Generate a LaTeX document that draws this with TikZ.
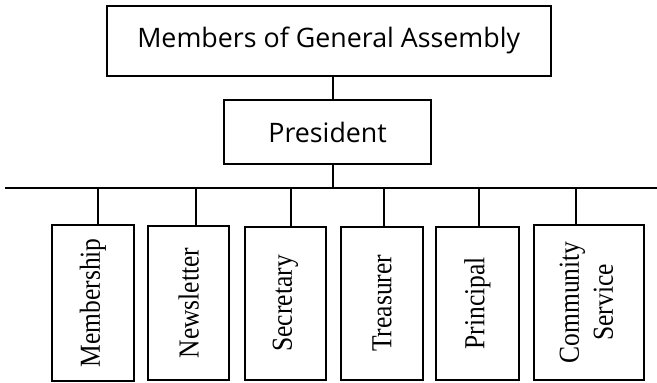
\documentclass[tikz,border=0pt]{standalone}
\usepackage{fontspec}
\setmainfont{Liberation Serif}
\newfontfamily\topfont{Open Sans}
\usepackage{graphicx}
\newcommand{\vlabel}[1]{\rotatebox{90}{\scalebox{0.88}[1]{#1}}}
\begin{document}
\begin{tikzpicture}[x=1pt,y=-1pt,
  box/.style={draw, line width=1.8pt, inner sep=0pt, rectangle},
  upper/.style={box, font=\topfont\fontsize{26.8}{32}\selectfont},
  lower/.style={box, font=\fontsize{29}{34}\selectfont},
  wire/.style={line width=1.8pt}]
\useasboundingbox (0,0) rectangle (657,383);
\node[upper, minimum width=444pt, minimum height=70pt] (top) at (328.7,40.7) {Members of General Assembly};
\node[upper, minimum width=206.7pt, minimum height=64pt] (pres) at (327.65,132) {President};
\node[lower, minimum width=82.3pt, minimum height=155.7pt] (m1) at (92.85,302.85) {\vlabel{Membership}};
\node[lower, minimum width=81pt, minimum height=154pt] (m2) at (188.8,303) {\vlabel{Newsletter}};
\node[lower, minimum width=81pt, minimum height=153.3pt] (m3) at (285.5,303.35) {\vlabel{Secretary}};
\node[lower, minimum width=82pt, minimum height=153.3pt] (m4) at (382,303.35) {\vlabel{Treasurer}};
\node[lower, minimum width=82.7pt, minimum height=153.3pt] (m5) at (477.35,303.35) {\vlabel{Principal}};
\node[lower, minimum width=109.4pt, minimum height=155pt] (m6) at (589,302.5) {\vlabel{\begin{tabular}{@{}c@{}}Community\\Service\end{tabular}}};
\coordinate (t) at (333.3,187.7);
\coordinate (busL) at (5,187.7);
\coordinate (busR) at (657,187.7);
\draw[wire] (top.south -| t) -- (pres.north -| t);
\draw[wire] (pres.south -| t) -- (t);
\draw[wire] (busL) -- (busR);
\foreach \i/\x in {1/97.7,2/195.7,3/290.7,4/383.7,5/478.7,6/576.3} {
  \coordinate (b\i) at (\x,187.7);
  \draw[wire] (b\i) -- (b\i |- m\i.north);
}
\end{tikzpicture}
\end{document}
